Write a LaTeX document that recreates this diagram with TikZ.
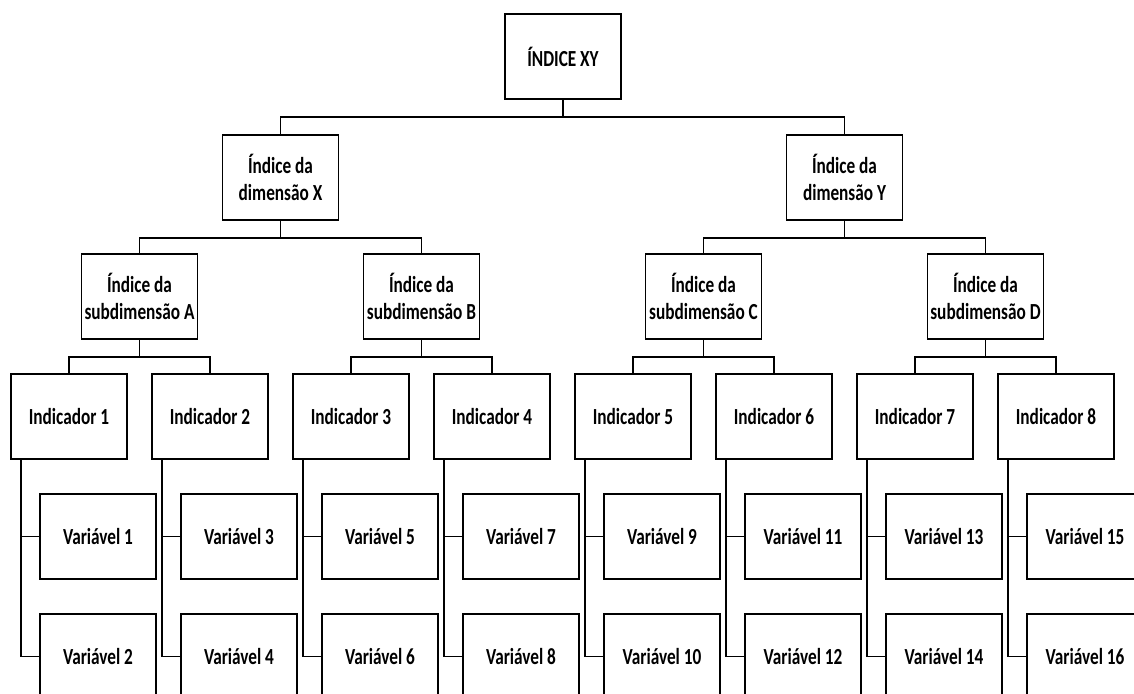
\documentclass[tikz,border=0pt]{standalone}
\usepackage{fontspec}
\setmainfont{Carlito}[BoldFont={Carlito Bold}, BoldFeatures={FakeStretch=0.75}, FakeStretch=0.75]
\usetikzlibrary{positioning,calc}

\tikzset{
  box/.style={draw, line width=1.8pt, minimum width=116pt, minimum height=85pt, inner sep=0pt,
    align=center, font=\fontsize{23}{27}\selectfont\bfseries},
  link/.style={line width=1.5pt}
}

\begin{document}
\begin{tikzpicture}[x=1pt, y=-1pt]
    \useasboundingbox (0,0) rectangle (1134,693);
    \clip (0,0) rectangle (1134,693);

    \node [box] (xy) at (563,56.5) {ÍNDICE XY};
    \node [box] (dimX) at (280.5,177.5) {Índice da\\dimensão X};
    \node [box] (dimY) at (844.5,177.5) {Índice da\\dimensão Y};

    \foreach \s [count=\k from 0] in {A,B,C,D}
        \node [box] (sub\s) at ({139.5+282*\k},296.5) {Índice da\\subdimensão \s};

    \foreach \i in {1,...,8} {
        \pgfmathtruncatemacro\a{2*\i-1}
        \pgfmathtruncatemacro\b{2*\i}
        \node [box] (ind\i) at ({69+141*(\i-1)},416.5) {Indicador \i};
        \node [box] (var\a) at ({98+141*(\i-1)},536.5) {Variável \a};
        \node [box] (var\b) at ({98+141*(\i-1)},656.5) {Variável \b};
        \draw [link] ([xshift=11pt]ind\i.south west) |- (var\a.west);
        \draw [link] ([xshift=11pt]ind\i.south west) |- (var\b.west);
    }

    % tree links
    \draw [link] (xy.south) -- ++(0,17) -| (dimX.north);
    \draw [link] (xy.south) -- ++(0,17) -| (dimY.north);
    \draw [link] (dimX.south) -- ++(0,17) -| (subA.north);
    \draw [link] (dimX.south) -- ++(0,17) -| (subB.north);
    \draw [link] (dimY.south) -- ++(0,17) -| (subC.north);
    \draw [link] (dimY.south) -- ++(0,17) -| (subD.north);
    \draw [link] (subA.south) -- ++(0,17) -| (ind1.north);
    \draw [link] (subA.south) -- ++(0,17) -| (ind2.north);
    \draw [link] (subB.south) -- ++(0,17) -| (ind3.north);
    \draw [link] (subB.south) -- ++(0,17) -| (ind4.north);
    \draw [link] (subC.south) -- ++(0,17) -| (ind5.north);
    \draw [link] (subC.south) -- ++(0,17) -| (ind6.north);
    \draw [link] (subD.south) -- ++(0,17) -| (ind7.north);
    \draw [link] (subD.south) -- ++(0,17) -| (ind8.north);
\end{tikzpicture}
\end{document}
